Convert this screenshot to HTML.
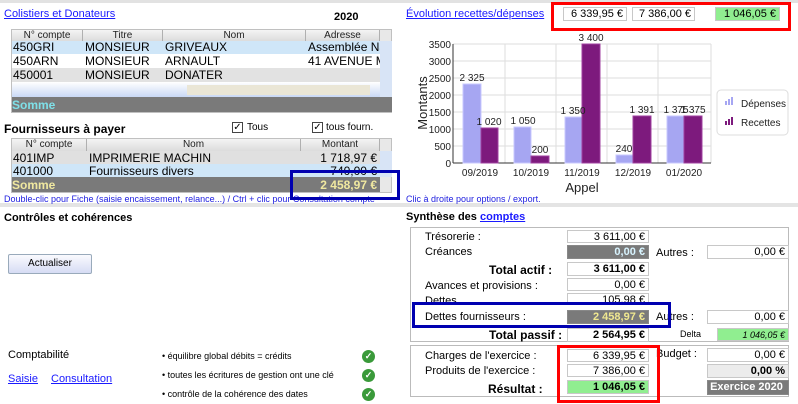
<!DOCTYPE html>
<html><head><meta charset="utf-8"><style>
*{box-sizing:border-box}
body{margin:0;width:798px;height:404px;background:#fff;position:relative;overflow:hidden;font-family:"Liberation Sans",Arial,sans-serif;font-size:11px;color:#000}
.a{position:absolute;white-space:nowrap}
.lnk{color:#1a1aff;text-decoration:underline}
.b{font-weight:bold}
.fld{position:absolute;border:1px solid #c8c8c8;background:#fff;text-align:right;padding-right:3px;font-size:11px;line-height:12px;white-space:nowrap}
.hdr{position:absolute;background:linear-gradient(#f4f4f4,#dcdcdc);border-right:1px solid #b0b0b0;font-size:10px;text-align:center;line-height:12px;color:#222;white-space:nowrap;overflow:hidden}
.cell{position:absolute;font-size:12px;line-height:13px;padding-left:1px;white-space:nowrap;overflow:hidden}
.ck{position:absolute;width:11px;height:11px;border:1px solid #444;background:#fff;font-size:10px;line-height:9px;text-align:center}
.ok{position:absolute;width:13px;height:13px;border-radius:50%;background:#3a9a3a;color:#fff;font-size:9px;line-height:13px;text-align:center;font-weight:bold}
</style></head><body>
<div class="a" style="left:0;top:0;width:798px;height:3px;background:#e2e2e2"></div>
<div class="a" style="left:0;top:203px;width:798px;height:4px;background:#e4e4e4"></div>

<!-- top left -->
<div class="a lnk" style="left:4px;top:8px;font-size:11px">Colistiers et Donateurs</div>
<div class="a b" style="left:334px;top:11px;font-size:11px">2020</div>

<div class="a" style="left:11px;top:29px;width:381px;height:84px;background:#e8e8e8;border:1px solid #c0c0c0"></div>
<div class="hdr" style="left:12px;top:30px;width:71px;height:11px">N° compte</div>
<div class="hdr" style="left:83px;top:30px;width:80px;height:11px">Titre</div>
<div class="hdr" style="left:163px;top:30px;width:143px;height:11px">Nom</div>
<div class="hdr" style="left:306px;top:30px;width:74px;height:11px">Adresse</div>
<div class="a" style="left:12px;top:41px;width:368px;height:13px;background:#cfe6f8"></div>
<div class="a" style="left:12px;top:54px;width:368px;height:14px;background:#fff"></div>
<div class="a" style="left:12px;top:68px;width:368px;height:14px;background:#e2e2e2"></div>
<div class="a" style="left:12px;top:82px;width:368px;height:15px;background:linear-gradient(#fff,#c9d8f5)"></div>
<div class="a" style="left:187px;top:85px;width:183px;height:10px;background:#eae6d6"></div>
<div class="a" style="left:380px;top:41px;width:12px;height:56px;background:#d8e4f6"></div>
<div class="a" style="left:12px;top:97px;width:380px;height:15px;background:#7a7a7a"></div>
<div class="cell" style="left:12px;top:41px">450GRI</div><div class="cell" style="left:84px;top:41px">MONSIEUR</div><div class="cell" style="left:164px;top:41px">GRIVEAUX</div><div class="cell" style="left:307px;top:41px;width:73px">Assemblée Na</div>
<div class="cell" style="left:12px;top:55px">450ARN</div><div class="cell" style="left:84px;top:55px">MONSIEUR</div><div class="cell" style="left:164px;top:55px">ARNAULT</div><div class="cell" style="left:307px;top:55px;width:73px">41 AVENUE MO</div>
<div class="cell" style="left:12px;top:69px">450001</div><div class="cell" style="left:84px;top:69px">MONSIEUR</div><div class="cell" style="left:164px;top:69px">DONATER</div>
<div class="a b" style="left:12px;top:98px;font-size:12px;color:#7fe0e8">Somme</div>

<div class="a b" style="left:4px;top:122px;font-size:12px">Fournisseurs à payer</div>
<div class="ck" style="left:232px;top:122px">✓</div><div class="a" style="left:247px;top:122px;font-size:10px">Tous</div>
<div class="ck" style="left:312px;top:122px">✓</div><div class="a" style="left:326px;top:122px;font-size:10px">tous fourn.</div>

<div class="a" style="left:11px;top:138px;width:381px;height:55px;background:#e8e8e8;border:1px solid #c0c0c0"></div>
<div class="hdr" style="left:12px;top:139px;width:75px;height:12px">N° compte</div>
<div class="hdr" style="left:87px;top:139px;width:214px;height:12px">Nom</div>
<div class="hdr" style="left:301px;top:139px;width:79px;height:12px">Montant</div>
<div class="a" style="left:12px;top:151px;width:368px;height:13px;background:#e0e0e0"></div>
<div class="a" style="left:12px;top:164px;width:368px;height:13px;background:#cfe6f8"></div>
<div class="a" style="left:380px;top:151px;width:12px;height:26px;background:#d8e4f6"></div>
<div class="a" style="left:12px;top:177px;width:368px;height:15px;background:#7a7a7a"></div>
<div class="cell" style="left:12px;top:152px">401IMP</div><div class="cell" style="left:88px;top:152px">IMPRIMERIE MACHIN</div><div class="cell" style="left:300px;top:152px;width:77px;text-align:right">1 718,97 €</div>
<div class="cell" style="left:12px;top:165px">401000</div><div class="cell" style="left:88px;top:165px">Fournisseurs divers</div><div class="cell" style="left:300px;top:165px;width:77px;text-align:right">740,00 €</div>
<div class="a b" style="left:12px;top:178px;font-size:12px;color:#f0e8a0">Somme</div>
<div class="a b" style="left:300px;top:178px;width:77px;text-align:right;font-size:12px;color:#f0e8a0">2 458,97 €</div>
<div class="a" style="left:4px;top:194px;font-size:9px;color:#2020e0">Double-clic pour Fiche (saisie encaissement, relance...) / Ctrl + clic pour Consultation compte</div>
<div class="a" style="left:290px;top:170px;width:110px;height:30px;border:3px solid #0000b0"></div>

<!-- top right -->
<div class="a lnk" style="left:406px;top:8px;font-size:11px">Évolution recettes/dépenses</div>
<div class="fld" style="left:563px;top:7px;width:64px;height:14px">6 339,95 €</div>
<div class="fld" style="left:632px;top:7px;width:63px;height:14px">7 386,00 €</div>
<div class="fld" style="left:715px;top:7px;width:65px;height:14px;background:#90ee90">1 046,05 €</div>
<div class="a" style="left:551px;top:2px;width:240px;height:29px;border:3px solid #f00"></div>

<svg class="a" style="left:400px;top:30px" width="398" height="175" viewBox="400 30 398 175" font-family="Liberation Sans,Arial,sans-serif">
<g stroke="#ddd" stroke-width="1">
<line x1="453" y1="44" x2="711" y2="44"/><line x1="453" y1="61" x2="711" y2="61"/><line x1="453" y1="78" x2="711" y2="78"/><line x1="453" y1="95" x2="711" y2="95"/><line x1="453" y1="112" x2="711" y2="112"/><line x1="453" y1="129" x2="711" y2="129"/><line x1="453" y1="146" x2="711" y2="146"/>
<line x1="505" y1="44" x2="505" y2="163"/><line x1="556" y1="44" x2="556" y2="163"/><line x1="607" y1="44" x2="607" y2="163"/><line x1="658" y1="44" x2="658" y2="163"/><line x1="711" y1="44" x2="711" y2="163"/>
</g>
<line x1="453" y1="44" x2="453" y2="163" stroke="#333"/>
<line x1="453" y1="163" x2="711" y2="163" stroke="#333"/>
<g fill="#a6a6f2" stroke="#c8c8ff">
<rect x="463" y="84" width="18" height="79"/><rect x="514" y="127" width="17" height="36"/><rect x="565" y="117" width="17" height="46"/><rect x="616" y="155" width="17" height="8"/><rect x="667" y="116" width="17" height="47"/></g>
<g fill="#7d1a7d" stroke="#a040a0">
<rect x="481" y="128" width="17" height="35"/><rect x="531" y="156" width="18" height="7"/><rect x="582" y="44" width="18" height="119"/><rect x="633" y="116" width="18" height="47"/><rect x="684" y="116" width="18" height="47"/></g>
<g font-size="10" text-anchor="end" fill="#222">
<text x="451" y="48">3500</text><text x="451" y="65">3000</text><text x="451" y="82">2500</text><text x="451" y="99">2000</text><text x="451" y="116">1500</text><text x="451" y="133">1000</text><text x="451" y="150">500</text><text x="451" y="167">0</text></g>
<g font-size="10" text-anchor="middle" fill="#222">
<text x="472" y="81">2 325</text><text x="489" y="125">1 020</text><text x="523" y="124">1 050</text><text x="540" y="153">200</text><text x="573" y="114">1 350</text><text x="591" y="41">3 400</text><text x="624" y="152">240</text><text x="642" y="113">1 391</text><text x="676" y="113">1 375</text><text x="693" y="113">1 375</text>
<text x="480" y="176">09/2019</text><text x="531" y="176">10/2019</text><text x="582" y="176">11/2019</text><text x="633" y="176">12/2019</text><text x="684" y="176">01/2020</text></g>
<text x="582" y="192" font-size="13" text-anchor="middle" fill="#222">Appel</text>
<text transform="translate(427,103) rotate(-90)" font-size="13" text-anchor="middle" fill="#222">Montants</text>
<rect x="717" y="90" width="71" height="45" rx="4" fill="#fff" stroke="#ddd"/>
<rect x="725" y="101" width="2" height="4" fill="#a6a6f2"/><rect x="728" y="99" width="2" height="6" fill="#a6a6f2"/><rect x="731" y="97" width="2" height="8" fill="#a6a6f2"/>
<rect x="725" y="121" width="2" height="4" fill="#7d1a7d"/><rect x="728" y="119" width="2" height="6" fill="#7d1a7d"/><rect x="731" y="117" width="2" height="8" fill="#7d1a7d"/>
<text x="741" y="107" font-size="10" fill="#222">Dépenses</text>
<text x="741" y="126" font-size="10" fill="#222">Recettes</text>
</svg>
<div class="a" style="left:406px;top:194px;font-size:9px;color:#2020e0">Clic à droite pour options / export.</div>

<!-- bottom left -->
<div class="a b" style="left:4px;top:212px;font-size:11px">Contrôles et cohérences</div>
<div class="a" style="left:8px;top:254px;width:84px;height:20px;border:1px solid #9ab;border-radius:2px;background:linear-gradient(#fafafe,#d6dcf4);font-size:10px;text-align:center;line-height:18px">Actualiser</div>
<div class="a" style="left:8px;top:349px;font-size:11px">Comptabilité</div>
<div class="a lnk" style="left:8px;top:373px;font-size:11px">Saisie</div>
<div class="a lnk" style="left:51px;top:373px;font-size:11px">Consultation</div>
<div class="a" style="left:162px;top:351px;font-size:9px">• équilibre global débits = crédits</div>
<div class="a" style="left:162px;top:370px;font-size:9px">• toutes les écritures de gestion ont une clé</div>
<div class="a" style="left:162px;top:389px;font-size:9px">• contrôle de la cohérence des dates</div>
<div class="ok" style="left:362px;top:350px">✓</div><div class="ok" style="left:362px;top:369px">✓</div><div class="ok" style="left:362px;top:388px">✓</div>

<!-- bottom right -->
<div class="a b" style="left:406px;top:211px;font-size:11px">Synthèse des <span class="lnk">comptes</span></div>
<div class="a" style="left:410px;top:227px;width:379px;height:115px;border:1px solid #bbb"></div>
<div class="a" style="left:410px;top:345px;width:379px;height:52px;border:1px solid #bbb"></div>
<div class="a" style="left:425px;top:231px">Trésorerie :</div>
<div class="fld" style="left:567px;top:230px;width:82px;height:13px">3 611,00 €</div>
<div class="a" style="left:425px;top:246px">Créances</div>
<div class="fld b" style="left:567px;top:245px;width:82px;height:14px;background:#7a7a7a;color:#d8f4ff;border-color:#888">0,00 €</div>
<div class="a" style="left:656px;top:247px">Autres :</div>
<div class="fld" style="left:707px;top:245px;width:82px;height:14px">0,00 €</div>
<div class="a b" style="left:489px;top:263px;font-size:12px">Total actif :</div>
<div class="fld b" style="left:567px;top:262px;width:82px;height:14px">3 611,00 €</div>
<div class="a" style="left:425px;top:280px">Avances et provisions :</div>
<div class="fld" style="left:567px;top:278px;width:82px;height:13px">0,00 €</div>
<div class="a" style="left:425px;top:295px">Dettes</div>
<div class="fld" style="left:567px;top:293px;width:82px;height:12px">105,98 €</div>
<div class="a" style="left:425px;top:311px">Dettes fournisseurs :</div>
<div class="fld b" style="left:567px;top:310px;width:82px;height:14px;background:#7a7a7a;color:#f0e890;border-color:#888">2 458,97 €</div>
<div class="a" style="left:656px;top:311px">Autres :</div>
<div class="fld" style="left:707px;top:310px;width:82px;height:14px">0,00 €</div>
<div class="a" style="left:412px;top:302px;width:259px;height:26px;border:3px solid #0000b0"></div>
<div class="a b" style="left:489px;top:328px;font-size:12px">Total passif :</div>
<div class="fld b" style="left:567px;top:328px;width:82px;height:14px">2 564,95 €</div>
<div class="a" style="left:680px;top:329px;font-size:9px">Delta</div>
<div class="fld" style="left:717px;top:328px;width:72px;height:13px;background:#90ee90;font-size:9px;font-style:italic">1 046,05 €</div>
<div class="a" style="left:425px;top:350px">Charges de l'exercice :</div>
<div class="fld" style="left:567px;top:349px;width:82px;height:13px">6 339,95 €</div>
<div class="a" style="left:656px;top:348px">Budget :</div>
<div class="fld" style="left:707px;top:348px;width:82px;height:14px">0,00 €</div>
<div class="a" style="left:425px;top:365px">Produits de l'exercice :</div>
<div class="fld" style="left:567px;top:364px;width:82px;height:13px">7 386,00 €</div>
<div class="fld b" style="left:707px;top:364px;width:82px;height:14px;background:#ececec">0,00 %</div>
<div class="a b" style="left:488px;top:382px;font-size:12px">Résultat :</div>
<div class="fld b" style="left:567px;top:380px;width:82px;height:14px;background:#90ee90">1 046,05 €</div>
<div class="fld b" style="left:707px;top:380px;width:82px;height:15px;background:#7a7a7a;color:#fff;text-align:center;border-color:#888">Exercice 2020</div>
<div class="a" style="left:557px;top:345px;width:103px;height:58px;border:3px solid #f00"></div>
</body></html>
